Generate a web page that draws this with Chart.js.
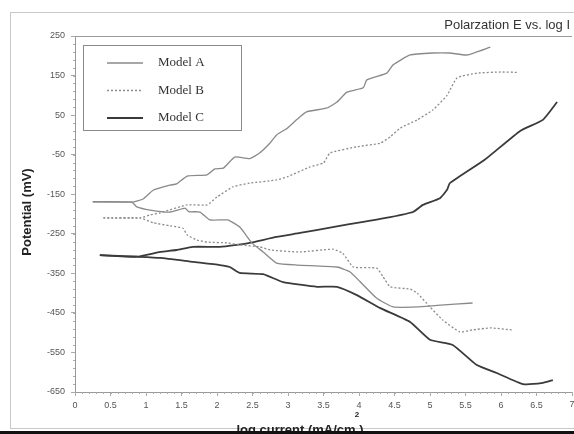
<!DOCTYPE html>
<html lang="en">
<head>
    <meta charset="UTF-8">
    <title>Polarzation E vs. log I</title>
    <script src="https://cdn.jsdelivr.net/npm/chart.js"></script>
    <style>
        html, body { margin: 0; padding: 0; background: #fff; }
        canvas { display: block; }
    </style>
</head>
<body>
    <canvas id="polChart" width="574" height="434"></canvas>

    <script>
        // values: [log current, potential]
        const modelAUp = [[0.25,-169],[0.8,-170],[0.96,-162],[1.1,-140],[1.34,-127],[1.43,-124],[1.58,-104],[1.86,-101],[1.97,-86],[2.09,-84],[2.25,-56],[2.46,-60],[2.6,-46],[2.75,-20],[2.84,0],[2.99,17],[3.12,38],[3.26,58],[3.55,68],[3.69,83],[3.83,108],[4.06,119],[4.11,139],[4.39,156],[4.48,177],[4.72,202],[5.04,207],[5.28,207],[5.52,202],[5.85,222]];
        const modelALow = [[0.25,-169],[0.8,-170],[0.87,-182],[1.06,-190],[1.34,-195],[1.55,-185],[1.6,-194],[1.76,-195],[1.9,-215],[2.15,-215],[2.32,-233],[2.44,-261],[2.49,-273],[2.65,-296],[2.84,-324],[3.13,-329],[3.69,-334],[3.87,-346],[4.01,-370],[4.25,-413],[4.48,-435],[4.82,-435],[5.1,-431],[5.6,-425]];
        const modelBUp = [[0.4,-210],[0.92,-210],[1.06,-202],[1.2,-197],[1.58,-177],[1.86,-177],[2.0,-157],[2.23,-131],[2.46,-122],[2.84,-114],[2.99,-106],[3.31,-81],[3.5,-71],[3.59,-46],[3.97,-30],[4.3,-21],[4.44,-5],[4.58,17],[4.82,38],[5.04,63],[5.24,100],[5.38,144],[5.66,156],[5.99,159],[6.25,158]];
        const modelBLow = [[0.4,-210],[0.92,-210],[1.1,-222],[1.34,-230],[1.52,-236],[1.58,-253],[1.72,-266],[1.86,-271],[2.14,-273],[2.32,-278],[2.6,-283],[2.75,-291],[3.17,-296],[3.63,-289],[3.77,-299],[3.92,-334],[4.25,-337],[4.34,-359],[4.44,-384],[4.72,-390],[4.82,-400],[5.0,-435],[5.18,-468],[5.42,-498],[5.6,-493],[5.85,-488],[6.15,-493]];
        const modelCUp = [[0.35,-304],[0.87,-308],[1.2,-296],[1.43,-291],[1.66,-283],[2.04,-283],[2.28,-278],[2.46,-273],[2.84,-258],[3.17,-248],[3.63,-233],[4.06,-220],[4.44,-208],[4.76,-195],[4.9,-177],[5.14,-160],[5.24,-139],[5.28,-122],[5.77,-63],[6.27,10],[6.59,38],[6.79,83]];
        const modelCLow = [[0.35,-304],[0.87,-308],[1.2,-311],[1.66,-321],[2.04,-329],[2.18,-334],[2.32,-349],[2.65,-352],[2.93,-372],[3.41,-384],[3.69,-384],[3.97,-405],[4.3,-438],[4.72,-473],[5.0,-518],[5.32,-531],[5.66,-582],[5.94,-602],[6.31,-630],[6.59,-627],[6.73,-620]];

        const models = ['Model A', 'Model B', 'Model C'];
        const yTicks = [250, 150, 50, -50, -150, -250, -350, -450, -550, -650];

        const styles = [
            { color: '#8a8a8a', width: 1.3, dash: [] },
            { color: '#8c8c8c', width: 1.3, dash: [2, 2] },
            { color: '#3a3a3a', width: 1.8, dash: [] }
        ];

        function toPts(arr) {
            return arr.map(p => ({ x: p[0], y: p[1] }));
        }

        const branches = [
            [modelAUp, 0], [modelALow, 0],
            [modelBUp, 1], [modelBLow, 1],
            [modelCUp, 2], [modelCLow, 2]
        ];

        const datasets = branches.map(b => ({
            label: models[b[1]],
            data: toPts(b[0]),
            borderColor: styles[b[1]].color,
            borderWidth: styles[b[1]].width,
            borderDash: styles[b[1]].dash,
            pointRadius: 0,
            tension: 0.15,
            fill: false
        }));

        const framePlugin = {
            id: 'frame',
            beforeDraw(chart) {
                const c = chart.ctx;
                c.save();
                c.fillStyle = '#fff';
                c.fillRect(0, 0, chart.width, chart.height);
                c.strokeStyle = '#c8c8c8';
                c.lineWidth = 1;
                c.strokeRect(10.5, 12.5, 570, 416);
                c.restore();
            },
            afterDraw(chart) {
                const c = chart.ctx;
                const a = chart.chartArea;
                const ys = chart.scales.y;
                const xs = chart.scales.x;
                c.save();
                // top of the plot box
                c.strokeStyle = '#9a9a9a';
                c.lineWidth = 1;
                c.beginPath();
                c.moveTo(a.left, a.top + 0.5);
                c.lineTo(a.right, a.top + 0.5);
                c.stroke();

                // minor ticks
                c.strokeStyle = '#aaa';
                c.beginPath();
                for (let v = -650; v <= 250; v += 20) {
                    const py = Math.round(ys.getPixelForValue(v)) + 0.5;
                    c.moveTo(a.left - 2, py);
                    c.lineTo(a.left, py);
                }
                for (let v = 0; v <= 7; v += 0.1) {
                    const px = Math.round(xs.getPixelForValue(v)) + 0.5;
                    c.moveTo(px, a.bottom);
                    c.lineTo(px, a.bottom + 2);
                }
                c.stroke();

                // last x label sits on the picture edge
                c.fillStyle = '#555';
                c.font = '9px "Liberation Sans", Arial, sans-serif';
                c.textAlign = 'center';
                c.textBaseline = 'top';
                c.fillText('7', xs.getPixelForValue(7), a.bottom + 8);

                // titles
                c.textBaseline = 'alphabetic';
                c.fillStyle = '#333';
                c.font = '13px "Liberation Sans", Arial, sans-serif';
                c.textAlign = 'right';
                c.fillText('Polarzation E vs. log I', 570, 29);

                c.fillStyle = '#222';
                c.font = 'bold 13px "Liberation Sans", Arial, sans-serif';
                c.save();
                c.translate(31, 212);
                c.rotate(-Math.PI / 2);
                c.textAlign = 'center';
                c.fillText('Potential (mV)', 0, 0);
                c.restore();

                c.textAlign = 'center';
                c.fillText('log current (mA/cm )', 300, 434);
                c.font = 'bold 8px "Liberation Sans", Arial, sans-serif';
                c.fillText('2', 357, 417);

                c.fillStyle = '#111';
                c.fillRect(0, 431, chart.width, 3);

                // legend box
                c.strokeStyle = '#8a8a8a';
                c.lineWidth = 1;
                c.strokeRect(83.5, 45.5, 158, 85);
                c.font = '13px "Liberation Serif", "Times New Roman", serif';
                c.textAlign = 'left';
                c.textBaseline = 'middle';
                models.forEach((m, i) => {
                    const yy = 63 + i * 27.5;
                    const s = styles[i];
                    c.strokeStyle = s.color;
                    c.lineWidth = s.width;
                    c.setLineDash(s.dash);
                    c.beginPath();
                    c.moveTo(107, yy);
                    c.lineTo(143, yy);
                    c.stroke();
                    c.setLineDash([]);
                    c.fillStyle = '#333';
                    c.fillText(m, 158, yy);
                });
                c.restore();
            }
        };

        const ctx = document.getElementById('polChart').getContext('2d');
        const polChart = new Chart(ctx, {
            type: 'line',
            data: { datasets: datasets },
            options: {
                responsive: false,
                animation: false,
                layout: { padding: { top: 36, right: 2, left: 0, bottom: 0 } },
                plugins: {
                    legend: { display: false },
                    tooltip: { enabled: false }
                },
                scales: {
                    x: {
                        type: 'linear',
                        min: 0,
                        max: 7,
                        afterFit: s => { s.height = 42; s.paddingRight = 0; s.paddingLeft = 0; },
                        grid: { display: true, drawOnChartArea: false, tickLength: 4, color: '#aaa' },
                        border: { display: true, color: '#999' },
                        ticks: {
                            stepSize: 0.5,
                            autoSkip: false,
                            maxRotation: 0,
                            color: '#555',
                            padding: 4,
                            callback: v => (v >= 7 ? '' : String(+v.toFixed(1))),
                            font: { family: '"Liberation Sans", Arial, sans-serif', size: 9 }
                        }
                    },
                    y: {
                        min: -650,
                        max: 250,
                        afterFit: s => { s.width = 75; },
                        afterBuildTicks: s => { s.ticks = yTicks.map(v => ({ value: v })); },
                        grid: { display: true, drawOnChartArea: false, tickLength: 4, color: '#aaa' },
                        border: { display: true, color: '#999' },
                        ticks: {
                            color: '#555',
                            padding: 6,
                            font: { family: '"Liberation Sans", Arial, sans-serif', size: 9 }
                        }
                    }
                }
            },
            plugins: [framePlugin]
        });
    </script>
</body>
</html>
